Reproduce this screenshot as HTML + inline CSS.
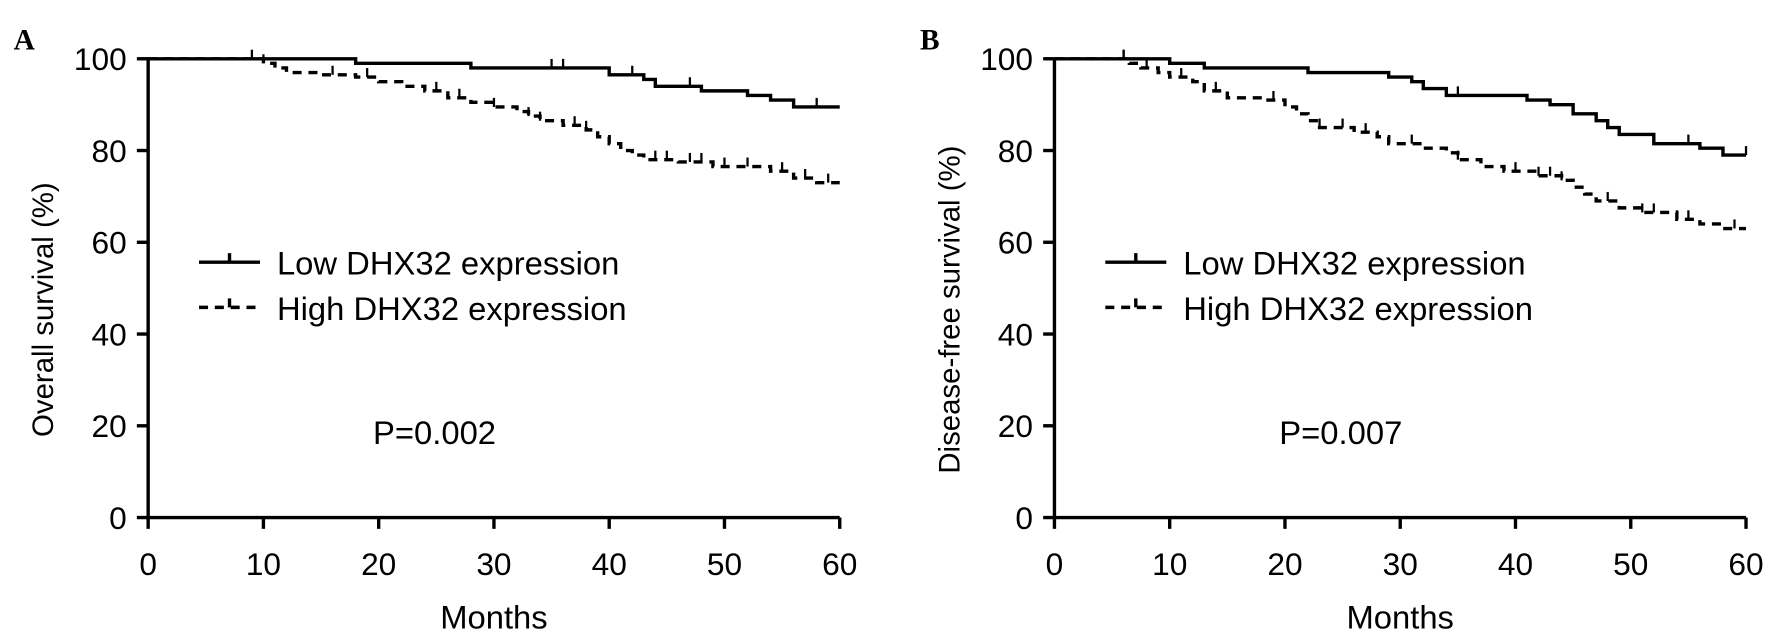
<!DOCTYPE html>
<html><head><meta charset="utf-8"><style>body{margin:0;background:#fff}svg{display:block}text{font-family:"Liberation Sans",Arial,sans-serif;fill:#000}</style></head>
<body>
<svg id="c" width="1771" height="637" viewBox="0 0 1567 563.7"></svg>
<script>
const xTicks=[0,10,20,30,40,50,60];
const yTicks=[0,20,40,60,80,100];
const aLowX=[0,18,28,40,43,44,48,52,54,56,60];
const aLowY=[100,99,98,96.5,95.5,94,93,92,91,89.5,89.5];
const aLowCens=[35,36,42,47,58];
const aHighX=[0,10,11,12,15,18,20,22,24,26,28,30,32,33,34,36,38,39,40,41,42,43,46,49,54,56,58,60];
const aHighY=[100,99,98,97,96.5,96,95,94,93,91.5,90.5,89.5,88.5,87.5,86.5,85.5,84.5,83,81.5,80,79,78,77.5,76.5,75.5,74,73,73];
const aHighCens=[9,10,16,19,25,27,30,33,34,37,38,44,45,47,48,50,52,55,57,59];
const bLowX=[0,10,13,22,29,31,32,34,41,43,45,47,48,49,52,56,58,60];
const bLowY=[100,99,98,97,96,95,93.5,92,91,90,88,86.5,85,83.5,81.5,80.5,79,79];
const bLowCens=[6,35,55,60];
const bHighX=[0,6.5,7.5,9,10,12,13,15,18,20,21,22,23,26,28,29,32,34,35,37,39,42,44,45,46,47,49,51,54,56,58,60];
const bHighY=[100,99,98,97,96,95,93,91.5,91,89.5,88,86.5,85,84,83,81.5,80.5,79.5,78,76.5,75.5,74.5,73.5,72,70.5,69,67.5,66.5,65,64,63,63];
const bHighCens=[6,8,11,14,19,23,25,27,31,35,40,42,43,44,48,51,52,54,55,59];
const NS="http://www.w3.org/2000/svg";
const svg=document.getElementById('c');
function el(t,a,p){const e=document.createElementNS(NS,t);for(const k in a)e.setAttribute(k,a[k]);(p||svg).appendChild(e);return e;}
function txt(s,a,p){const e=el('text',a,p);e.textContent=s;return e;}
function panel(x0,letter,ylab,pval,lowX,lowY,lowC,highX,highY,highC){
  const g=el('g',{});
  
  
  const sx=m=>x0+m*10.2, sy=v=>458-v*4.06;
  const L=txt(letter,{x:x0-119,y:44,'font-size':26,'font-weight':'bold',style:'font-family:"Liberation Serif",serif'},g);
  
  
  const ax=el('path',{d:`M${sx(0)},${sy(100)}V458H${sx(60)}`,stroke:'#000','stroke-width':3,fill:'none'},g);
  
  
  xTicks.forEach(t=>{el('line',{x1:sx(t),x2:sx(t),y1:458,y2:468,stroke:'#000','stroke-width':3},g);
    const tl=txt(t,{x:sx(t),y:509,'font-size':28,'text-anchor':'middle'},g);
    
    });
  yTicks.forEach(t=>{el('line',{x1:sx(0)-10,x2:sx(0),y1:sy(t),y2:sy(t),stroke:'#000','stroke-width':3},g);
    const tl=txt(t,{x:sx(0)-19,y:sy(t)+10,'font-size':28,'text-anchor':'end'},g);
    
    });
  const xl=txt('Months',{x:sx(30),y:556,'font-size':29,'text-anchor':'middle'},g);
  
  
  const yl=txt(ylab,{x:0,y:0,'font-size':26,'text-anchor':'middle',transform:`translate(${x0-84},274) rotate(-90)`},g);
  
  
  function curve(X,Y,C,dash,name){
    let d=`M${sx(X[0])},${sy(Y[0])}`;
    for(let i=1;i<X.length;i++){d+=`H${sx(X[i])}V${sy(Y[i])}`;}
    const p=el('path',{d,stroke:'#000','stroke-width':3,fill:'none','stroke-dasharray':dash},g);
    
    
    C.forEach(c=>{let v=Y[0];for(let i=0;i<X.length;i++)if(X[i]<=c)v=Y[i];
      const t=el('line',{x1:sx(c),x2:sx(c),y1:sy(v)-8,y2:sy(v),stroke:'#000','stroke-width':2},g);
      
      });
  }
  curve(highX,highY,highC,'8,6','high-expression-curve');
  curve(lowX,lowY,lowC,'none','low-expression-curve');
  const lx=x0+45;
  const l1=el('path',{d:`M${lx},232H${lx+54}M${lx+27},224V232`,stroke:'#000','stroke-width':3,fill:'none'},g);
  
  
  const t1=txt('Low DHX32 expression',{x:lx+69,y:243,'font-size':29},g);
  
  
  const l2=el('path',{d:`M${lx},272H${lx+54}M${lx+27},264V272`,stroke:'#000','stroke-width':3,fill:'none','stroke-dasharray':'8,6'},g);
  
  
  const t2=txt('High DHX32 expression',{x:lx+69,y:283,'font-size':29},g);
  
  
  const pv=txt(pval,{x:x0+199,y:393,'font-size':29},g);
  
  
}
panel(131,'A','Overall survival (%)','P=0.002',aLowX,aLowY,aLowCens,aHighX,aHighY,aHighCens);
panel(933,'B','Disease-free survival (%)','P=0.007',bLowX,bLowY,bLowCens,bHighX,bHighY,bHighCens);
</script>
</body></html>
